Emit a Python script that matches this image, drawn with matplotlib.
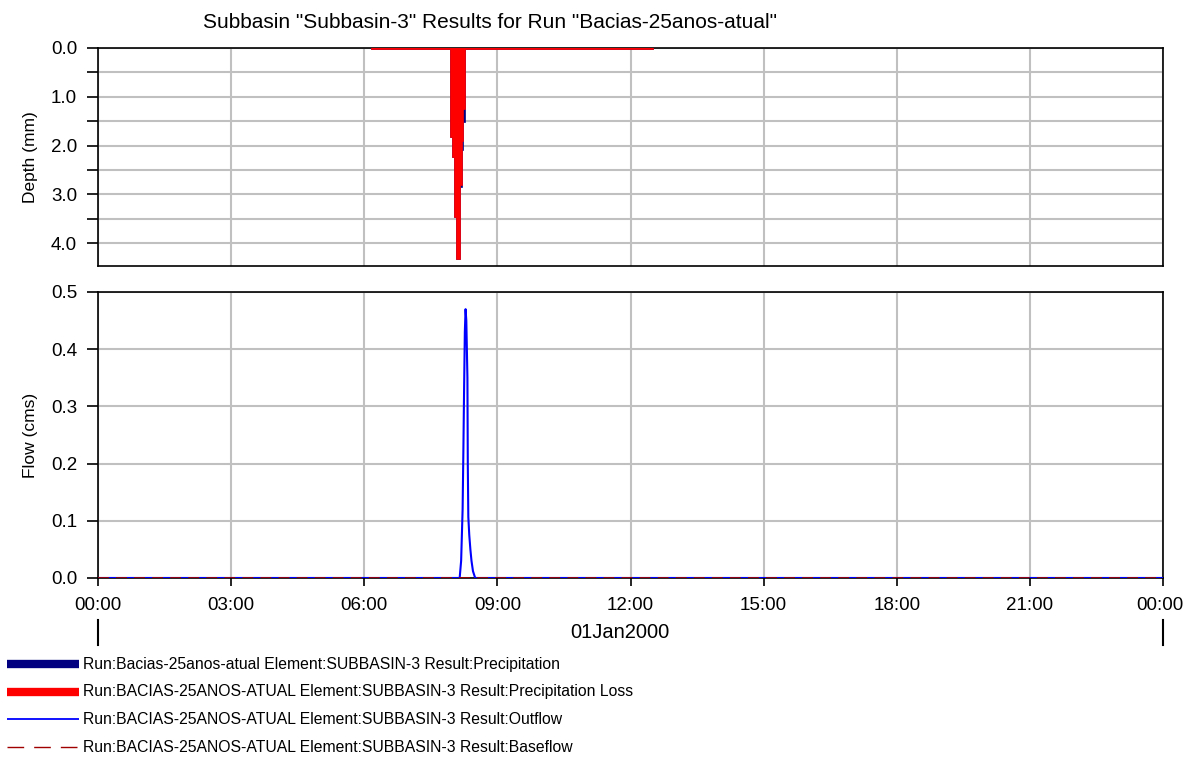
import numpy as np
import matplotlib
matplotlib.use("Agg")
import matplotlib.pyplot as plt
from matplotlib.lines import Line2D

plt.rcParams['font.family'] = ['Liberation Sans', 'DejaVu Sans']

# precipitation bars (minutes after 00:00, depth in mm)
precip_edges_min = [370, 477, 480, 483, 486, 489.5, 491.5, 493.5, 496.5, 750]
precip_mm = [0.03, 1.83, 2.24, 3.47, 4.33, 2.85, 2.1, 1.52, 0.03]
loss_mm = [0.03, 1.83, 2.24, 3.47, 4.33, 2.8, 1.9, 1.25, 0.03]

# outflow hydrograph (minutes, cms)
flow_time_min = [0, 489, 491, 493, 494, 495, 496, 497, 498, 499.5, 500, 500.7,
                 502, 503.5, 505, 507, 510, 1440]
outflow_cms = [0.0, 0.0, 0.03, 0.12, 0.22, 0.33, 0.43, 0.47, 0.45, 0.35, 0.2,
               0.107, 0.075, 0.05, 0.03, 0.012, 0.0, 0.0]
baseflow_time_min = [0, 1440]
baseflow_cms = [0.0, 0.0]

hour_ticks = list(range(0, 25, 3))
hour_labels = ["00:00", "03:00", "06:00", "09:00", "12:00", "15:00", "18:00", "21:00", "00:00"]

legend_labels = [
    "Run:Bacias-25anos-atual Element:SUBBASIN-3 Result:Precipitation",
    "Run:BACIAS-25ANOS-ATUAL Element:SUBBASIN-3 Result:Precipitation Loss",
    "Run:BACIAS-25ANOS-ATUAL Element:SUBBASIN-3 Result:Outflow",
    "Run:BACIAS-25ANOS-ATUAL Element:SUBBASIN-3 Result:Baseflow",
]

W, H = 1183, 758
fig = plt.figure(figsize=(W / 100, H / 100), dpi=100)

def box(x0, y0, x1, y1):
    return [x0 / W, 1 - y1 / H, (x1 - x0) / W, (y1 - y0) / H]

ax1 = fig.add_axes(box(98, 48, 1163, 266))
ax2 = fig.add_axes(box(98, 292, 1163, 578))

grid_kw = dict(color="#c0c0c0", linewidth=1.5)

# depth panel
edges_h = np.array(precip_edges_min) / 60
left_h = edges_h[:-1]
width_h = np.diff(edges_h)
ax1.bar(left_h, precip_mm, width=width_h, align="edge", color="#000080",
        edgecolor="#000080", linewidth=1.2, zorder=3)
ax1.bar(left_h, loss_mm, width=width_h, align="edge", color="#ff0000",
        edgecolor="#ff0000", linewidth=1.2, zorder=4)
ax1.set_xlim(0, 24)
ax1.set_ylim(4.47, 0)
ax1.set_yticks([0, 1, 2, 3, 4])
ax1.set_yticklabels(["0.0", "1.0", "2.0", "3.0", "4.0"])
ax1.set_yticks(np.arange(0.5, 4.5, 1.0), minor=True)
ax1.set_xticks(hour_ticks)
ax1.tick_params(axis="x", length=0, labelbottom=False)
ax1.tick_params(axis="y", which="both", direction="out", length=8, width=1.2,
                labelsize=13.5, pad=7)
ax1.grid(True, which="both", **grid_kw)
ax1.set_axisbelow(True)
ax1.set_ylabel("Depth (mm)", fontsize=12.5, labelpad=9)

# flow panel
ax2.plot(np.array(flow_time_min) / 60, outflow_cms, color="#0000ff", linewidth=1.5, zorder=3)
ax2.plot(np.array(baseflow_time_min) / 60, baseflow_cms, color="#a00000", linewidth=1.3,
         dashes=(6, 4), zorder=4)
ax2.set_xlim(0, 24)
ax2.set_ylim(0, 0.5)
ax2.set_yticks(np.arange(0, 0.51, 0.1))
ax2.set_yticklabels([f"{v:.1f}" for v in np.arange(0, 0.51, 0.1)])
ax2.set_xticks(hour_ticks)
ax2.set_xticklabels(hour_labels[:-1] + [""])
ax2.tick_params(axis="x", direction="out", length=6, width=1.2, labelsize=13.5, pad=8)
ax2.tick_params(axis="y", direction="out", length=8, width=1.2, labelsize=13.5, pad=7)
ax2.grid(True, **grid_kw)
ax2.set_axisbelow(True)
ax2.set_ylabel("Flow (cms)", fontsize=12.5, labelpad=9)

# last tick label nudged inside the figure edge
fig.text(1160 / W, 1 - 605 / H, hour_labels[-1], ha="center", va="center", fontsize=13.5)

for ax in (ax1, ax2):
    for s in ax.spines.values():
        s.set_linewidth(1.2)

fig.text(490 / W, 1 - 22 / H, 'Subbasin "Subbasin-3" Results for Run "Bacias-25anos-atual"',
         ha="center", va="center", fontsize=15)
fig.text(620 / W, 1 - 633 / H, "01Jan2000", ha="center", va="center", fontsize=14.5)
for xp in (98, 1163):
    fig.add_artist(Line2D([xp / W, xp / W], [1 - 620 / H, 1 - 645 / H], color="black", linewidth=1.5))

# legend rows
styles = [
    dict(color="#000080", linewidth=6),
    dict(color="#ff0000", linewidth=6),
    dict(color="#0000ff", linewidth=1.3),
    dict(color="#a00000", linewidth=1.0, dashes=(12, 7.2)),
]
for i, (lab, st) in enumerate(zip(legend_labels, styles)):
    yp = 1 - (664 + i * 27.7) / H
    fig.add_artist(Line2D([7 / W, 79 / W], [yp, yp], solid_capstyle="butt", **st))
    fig.text(83 / W, yp, lab, ha="left", va="center", fontsize=11.3)

fig.savefig("out.png", dpi=100)
